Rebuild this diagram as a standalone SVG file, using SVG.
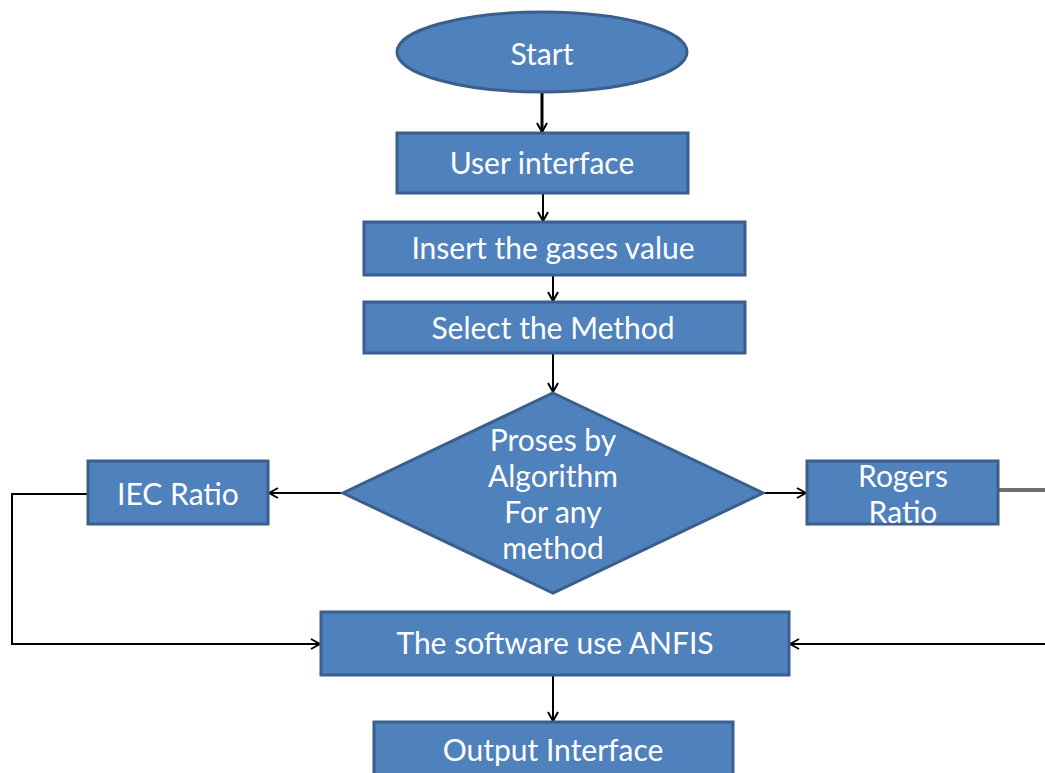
<svg xmlns="http://www.w3.org/2000/svg" width="1045" height="773" viewBox="0 0 1045 773">
  <style>
    .shape { fill: #4F81BD; stroke: #3A5F8C; stroke-width: 3; }
    .label { fill: #FFFFFF; font-family: Lato, "Open Sans", "Liberation Sans", sans-serif; font-size: 30px; text-anchor: middle; dominant-baseline: central; }
    .wire { fill: none; stroke: #000000; stroke-width: 2; }
    .wire.bold { stroke-width: 3; }
    .wire.gray { stroke: #707070; stroke-width: 4; }
  </style>
  <defs>
    <marker id="arrow" viewBox="0 0 12 12" refX="11" refY="6" markerWidth="12" markerHeight="12" markerUnits="userSpaceOnUse" orient="auto">
      <path d="M2,1 L11,6 L2,11" fill="none" stroke="#000000" stroke-width="2"/>
    </marker>
  </defs>
  <rect width="1045" height="773" fill="#FFFFFF"/>

  <g id="connectors">
    <line class="wire bold" x1="542" y1="92" x2="542" y2="132" marker-end="url(#arrow)"/>
    <line class="wire" x1="543" y1="194" x2="543" y2="221" marker-end="url(#arrow)"/>
    <line class="wire" x1="553" y1="276" x2="553" y2="301" marker-end="url(#arrow)"/>
    <line class="wire" x1="553" y1="354" x2="553" y2="392" marker-end="url(#arrow)"/>
    <line class="wire" x1="343" y1="493" x2="269" y2="493" marker-end="url(#arrow)"/>
    <line class="wire" x1="763" y1="493" x2="806" y2="493" marker-end="url(#arrow)"/>
    <polyline class="wire" points="88,494 12,494 12,644 320,644" marker-end="url(#arrow)"/>
    <line class="wire gray" x1="998" y1="490" x2="1045" y2="490"/>
    <line class="wire" x1="1045" y1="644" x2="790" y2="644" marker-end="url(#arrow)"/>
    <line class="wire" x1="553" y1="676" x2="553" y2="721" marker-end="url(#arrow)"/>
  </g>

  <g id="start">
    <ellipse class="shape" cx="542" cy="52" rx="145" ry="40"/>
    <text class="label" x="542" y="53">Start</text>
  </g>

  <g id="user-interface">
    <rect class="shape" x="397" y="133" width="291" height="60"/>
    <text class="label" x="542" y="162">User interface</text>
  </g>

  <g id="insert-gases">
    <rect class="shape" x="364" y="222" width="381" height="53"/>
    <text class="label" x="553" y="247">Insert the gases value</text>
  </g>

  <g id="select-method">
    <rect class="shape" x="364" y="302" width="381" height="51"/>
    <text class="label" x="553" y="327">Select the Method</text>
  </g>

  <g id="algorithm">
    <polygon class="shape" points="553,393 763,493 553,593 343,493"/>
    <text class="label" x="553" y="439">Proses by</text>
    <text class="label" x="553" y="475">Algorithm</text>
    <text class="label" x="553" y="511">For any</text>
    <text class="label" x="553" y="547">method</text>
  </g>

  <g id="iec-ratio">
    <rect class="shape" x="88" y="461" width="180" height="63"/>
    <text class="label" x="178" y="493">IEC Ratio</text>
  </g>

  <g id="rogers-ratio">
    <rect class="shape" x="807" y="461" width="191" height="63"/>
    <text class="label" x="903" y="475">Rogers</text>
    <text class="label" x="903" y="511">Ratio</text>
  </g>

  <g id="anfis">
    <rect class="shape" x="321" y="612" width="468" height="63"/>
    <text class="label" x="555" y="642">The software use ANFIS</text>
  </g>

  <g id="output-interface">
    <rect class="shape" x="374" y="722" width="359" height="56"/>
    <text class="label" x="553" y="749">Output Interface</text>
  </g>
</svg>
